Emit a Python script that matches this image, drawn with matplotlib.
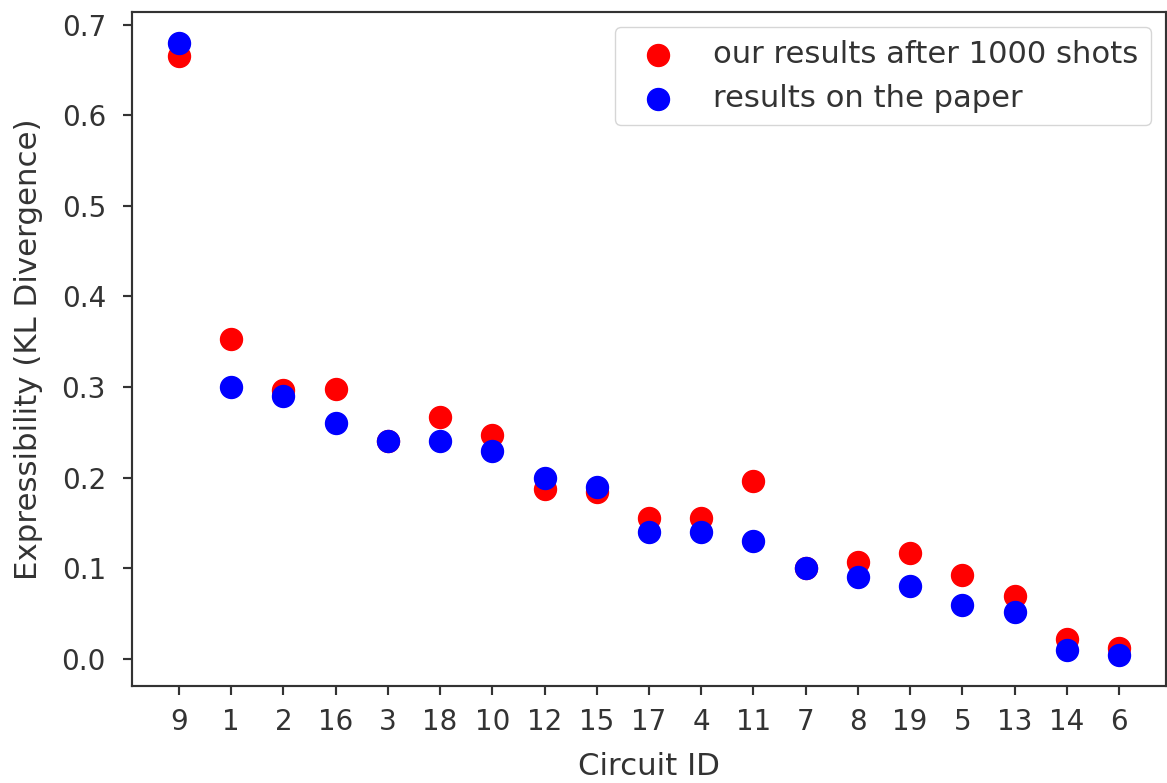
import matplotlib
matplotlib.use("Agg")
import matplotlib.pyplot as plt

circuit_ids = ["9", "1", "2", "16", "3", "18", "10", "12", "15", "17", "4", "11", "7", "8", "19", "5", "13", "14", "6"]
our_results = [0.665, 0.353, 0.297, 0.298, 0.240, 0.267, 0.247, 0.188, 0.184, 0.155, 0.155, 0.196, 0.100, 0.107, 0.117, 0.093, 0.069, 0.022, 0.012]
paper_results = [0.68, 0.30, 0.29, 0.26, 0.24, 0.24, 0.23, 0.20, 0.19, 0.14, 0.14, 0.13, 0.10, 0.09, 0.08, 0.06, 0.052, 0.01, 0.004]

f = 1.944
ink = "#333333"
plt.rcParams.update({
    "font.size": 22.2,
    "axes.linewidth": 0.8 * f,
    "axes.edgecolor": ink,
    "text.color": ink,
    "axes.labelcolor": ink,
    "xtick.color": ink,
    "ytick.color": ink,
    "xtick.labelsize": 20,
    "ytick.labelsize": 20,
    "xtick.major.size": 3.5 * f,
    "ytick.major.size": 3.5 * f,
    "xtick.major.width": 0.8 * f,
    "ytick.major.width": 0.8 * f,
    "xtick.major.pad": 9.0,
    "ytick.major.pad": 12.0,
})

fig = plt.figure(figsize=(11.67, 7.83), dpi=100)
ax = fig.add_axes([132 / 1167, (783 - 686) / 783, (1166 - 132) / 1167, (686 - 12) / 783])

ax.scatter(circuit_ids, our_results, color="red", s=250, label="our results after 1000 shots")
ax.scatter(circuit_ids, paper_results, color="blue", s=250, label="results on the paper")

ax.set_xlabel("Circuit ID")
ax.set_ylabel("Expressibility (KL Divergence)")
ax.xaxis.set_label_coords(0.5, -0.098)
ax.yaxis.set_label_coords(-0.086, 0.5)
ax.set_yticks([0.0, 0.1, 0.2, 0.3, 0.4, 0.5, 0.6, 0.7])
ax.legend(loc="upper right", fontsize=22.1)

fig.savefig("out.png", dpi=100)
